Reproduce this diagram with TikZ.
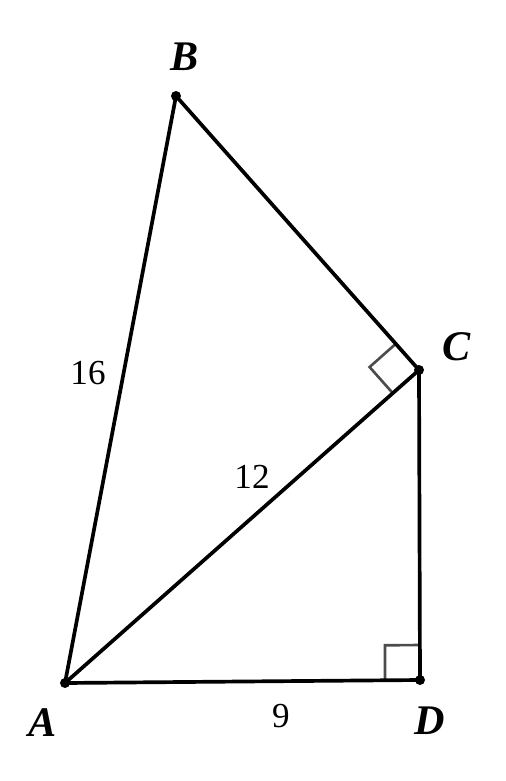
\documentclass[tikz,border=0pt]{standalone}
\usepackage{fontspec}
\setmainfont{Liberation Serif}
\usepackage{tikz}
\usetikzlibrary{calc}

\begin{document}
\begin{tikzpicture}[x=0.02cm, y=-0.02cm, auto,
    pt/.style={circle, fill, inner sep=0pt, minimum size=0.2cm},
    vlabel/.style={font=\fontsize{24}{28}\selectfont\bfseries\itshape},
    slabel/.style={font=\fontsize{20}{24}\selectfont},
    edge/.style={line width=2.1pt},
    rmark/.style={line width=1.5pt, draw=black!70}]
  \useasboundingbox (0,0) rectangle (506,781);

  % Nodes
  \coordinate (A) at (65,683);
  \coordinate (B) at (176,96);
  \coordinate (C) at (419,370);
  \coordinate (D) at (420,680);
  \node[vlabel] (labA) at (43,723) {A};
  \node[vlabel] (labB) at (185,57) {B};
  \node[vlabel] (labC) at (457,347) {C};
  \node[vlabel] (labD) at (430,721) {D};
  \node[slabel] (len16) at (88,373) {16};
  \node[slabel] (len12) at (252,477) {12};
  \node[slabel] (len9) at (281,716) {9};

  % Right angles
  \draw[rmark] ($(C)!0.7cm!(B)$) -- ($(C)!0.7cm!(B)!0.7cm!90:(B)$) -- ($(C)!0.7cm!(A)$);
  \draw[rmark] ($(D)!0.7cm!(A)$) -- ++(0,-35) -- ($(D)!0.7cm!(C)$);

  % Edges
  \draw[edge] (A) -- (B);
  \draw[edge] (B) -- (C);
  \draw[edge] (A) -- (C);
  \draw[edge] (C) -- (D);
  \draw[edge] (A) -- (D);

  % Points
  \foreach \p in {A,B,C,D}
    \node[pt] (dot\p) at (\p) {};
\end{tikzpicture}
\end{document}
